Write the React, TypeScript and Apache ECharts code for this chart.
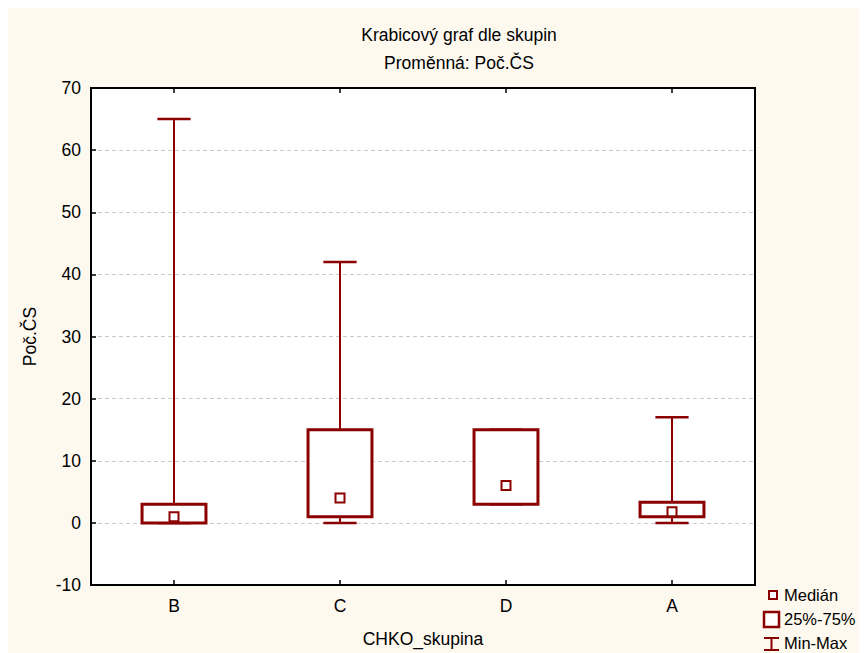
import React, { useEffect, useRef } from "react";
import * as echarts from "echarts";

const categories = ["B", "C", "D", "A"];
const mins = [0, 0, 3, 0];
const q1s = [0, 1, 3, 1];
const medians = [1, 4, 6, 1.8];
const q3s = [3, 15, 15, 3.3];
const maxs = [65, 42, 15, 17];
const yTicks = { min: -10, max: 70, interval: 10 };
const legendLabels = ["Medián", "25%-75%", "Min-Max"];

const RED = "#8b0000";
const FONT = "'Liberation Sans', Arial, sans-serif";
const FS = 17.5;
const LFS = 16.5;

export default function App() {
  const ref = useRef<HTMLDivElement>(null);
  useEffect(() => {
    document.documentElement.style.overflow = "hidden";
    if (!ref.current) return;
    const chart = echarts.init(ref.current, null, { renderer: "svg" });
    const data = categories.map((_, i) => [i, mins[i], q1s[i], medians[i], q3s[i], maxs[i]]);
    const tick = { show: true, inside: true, length: 5, lineStyle: { color: "#000", width: 1.5 } };
    const lx = 756;
    chart.setOption({
      animation: false,
      backgroundColor: "#fef9ef",
      textStyle: { fontFamily: FONT },
      title: {
        text: "Krabicový graf dle skupin",
        subtext: "Proměnná: Poč.ČS",
        left: 446,
        top: 13,
        textAlign: "center",
        itemGap: 10,
        textStyle: { fontSize: FS, fontWeight: "normal", color: "#000", fontFamily: FONT },
        subtextStyle: { fontSize: FS, color: "#000", fontFamily: FONT },
      },
      grid: {
        left: 83,
        top: 80,
        right: 112,
        bottom: 66,
        show: true,
        backgroundColor: "#fff",
        borderColor: "#000",
        borderWidth: 2,
      },
      xAxis: [
        {
          type: "category",
          data: categories,
          position: "bottom",
          name: "CHKO_skupina",
          nameLocation: "middle",
          nameGap: 45,
          nameTextStyle: { fontSize: FS, color: "#000", fontFamily: FONT },
          axisLine: { show: true, onZero: false, lineStyle: { color: "#000", width: 2 } },
          axisTick: { ...tick, alignWithLabel: true },
          axisLabel: { fontSize: FS, color: "#000", margin: 12, fontFamily: FONT },
          splitLine: { show: false },
        },
        {
          type: "category",
          data: categories,
          position: "top",
          axisLine: { show: true, onZero: false, lineStyle: { color: "#000", width: 2 } },
          axisTick: { ...tick, alignWithLabel: true },
          axisLabel: { show: false },
          splitLine: { show: false },
        },
      ],
      yAxis: {
        type: "value",
        min: yTicks.min,
        max: yTicks.max,
        interval: yTicks.interval,
        name: "Poč.ČS",
        nameLocation: "middle",
        nameRotate: 90,
        nameGap: 52,
        nameTextStyle: { fontSize: FS, color: "#000", fontFamily: FONT },
        axisLine: { show: true, onZero: false, lineStyle: { color: "#000", width: 2 } },
        axisTick: tick,
        axisLabel: { fontSize: FS, color: "#000", margin: 10, fontFamily: FONT },
        splitLine: { show: true, lineStyle: { color: "#c8c8c8", type: [4, 3], width: 1 } },
      },
      series: [
        {
          type: "custom",
          xAxisIndex: 0,
          data,
          encode: { x: 0, y: [1, 2, 3, 4, 5] },
          renderItem: (params: any, api: any) => {
            const i = api.value(0);
            const x = api.coord([i, 0])[0];
            const yMin = api.coord([i, api.value(1)])[1];
            const yQ1 = api.coord([i, api.value(2)])[1];
            const yMed = api.coord([i, api.value(3)])[1];
            const yQ3 = api.coord([i, api.value(4)])[1];
            const yMax = api.coord([i, api.value(5)])[1];
            const band = api.size([1, 0])[0];
            const boxW = band * 0.385;
            const capW = band * 0.2;
            const ls = { stroke: RED, lineWidth: 2, fill: "none" };
            return {
              type: "group",
              children: [
                { type: "line", shape: { x1: x, y1: yMax, x2: x, y2: yQ3 }, style: ls },
                { type: "line", shape: { x1: x, y1: yQ1, x2: x, y2: yMin }, style: ls },
                { type: "line", shape: { x1: x - capW / 2, y1: yMax, x2: x + capW / 2, y2: yMax }, style: { ...ls, lineWidth: 2.5 } },
                { type: "line", shape: { x1: x - capW / 2, y1: yMin, x2: x + capW / 2, y2: yMin }, style: { ...ls, lineWidth: 2.5 } },
                {
                  type: "rect",
                  shape: { x: x - boxW / 2, y: yQ3, width: boxW, height: yQ1 - yQ3 },
                  style: { stroke: RED, lineWidth: 3, fill: "#fff" },
                },
                {
                  type: "rect",
                  shape: { x: x - 4.5, y: yMed - 4.5, width: 9, height: 9 },
                  style: { stroke: RED, lineWidth: 2, fill: "#fff" },
                },
              ],
            };
          },
        },
      ],
      graphic: [
        { type: "rect", shape: { x: lx + 5, y: 583, width: 8, height: 8 }, style: { stroke: RED, lineWidth: 2, fill: "#fff" } },
        { type: "text", x: lx + 20, y: 587, style: { text: legendLabels[0], fill: "#000", font: `${LFS}px ${FONT}`, verticalAlign: "middle" } },
        { type: "rect", shape: { x: lx, y: 604, width: 15, height: 15 }, style: { stroke: RED, lineWidth: 2.5, fill: "#fff" } },
        { type: "text", x: lx + 20, y: 611, style: { text: legendLabels[1], fill: "#000", font: `${LFS}px ${FONT}`, verticalAlign: "middle" } },
        { type: "line", shape: { x1: lx + 7.5, y1: 630, x2: lx + 7.5, y2: 642 }, style: { stroke: RED, lineWidth: 2 } },
        { type: "line", shape: { x1: lx, y1: 630, x2: lx + 15, y2: 630 }, style: { stroke: RED, lineWidth: 2 } },
        { type: "line", shape: { x1: lx, y1: 642, x2: lx + 15, y2: 642 }, style: { stroke: RED, lineWidth: 2 } },
        { type: "text", x: lx + 20, y: 635, style: { text: legendLabels[2], fill: "#000", font: `${LFS}px ${FONT}`, verticalAlign: "middle" } },
      ],
    });
    return () => chart.dispose();
  }, []);
  return <div ref={ref} style={{ width: 859, height: 645 }} />;
}
